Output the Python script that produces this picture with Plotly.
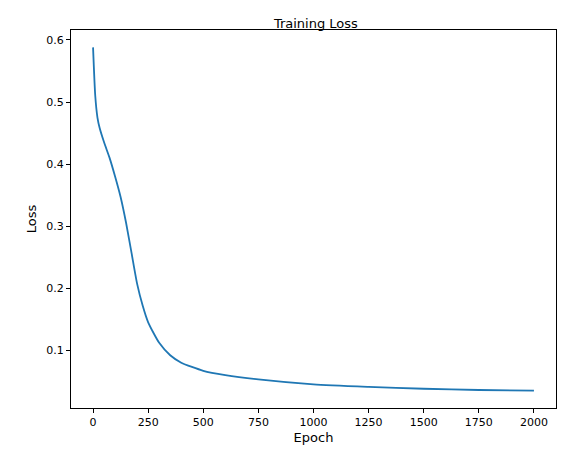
import plotly.graph_objects as go

# values
epochs = [0, 10, 20, 30, 50, 75, 100, 125, 150, 175, 200, 225, 250, 300, 350, 400,
          500, 600, 750, 1000, 1250, 1500, 1750, 2000]
loss = [0.588, 0.51, 0.475, 0.458, 0.435, 0.41, 0.38, 0.347, 0.305, 0.256, 0.207,
        0.172, 0.145, 0.112, 0.092, 0.080, 0.067, 0.060, 0.053, 0.045, 0.041,
        0.038, 0.036, 0.035]

x_ticks = [0, 250, 500, 750, 1000, 1250, 1500, 1750, 2000]
y_ticks = [0.1, 0.2, 0.3, 0.4, 0.5, 0.6]

fig = go.Figure()
fig.add_trace(go.Scatter(x=epochs, y=loss, mode='lines', line=dict(color='#1f77b4', width=1.8, shape='spline', smoothing=0.6)))

axis_style = dict(showline=True, linecolor='black', linewidth=1, mirror=True, ticks='outside',
                  ticklen=4, tickcolor='black', showgrid=False, zeroline=False)

fig.update_layout(
    width=567, height=455,
    margin=dict(l=63, r=19, t=22, b=55),
    plot_bgcolor='white', paper_bgcolor='white',
    font=dict(family='DejaVu Sans', size=11, color='black'),
    title=dict(text='Training Loss', x=0.543, xanchor='center', y=0.975, font=dict(size=13)),
    showlegend=False,
)
fig.update_xaxes(title=dict(text='Epoch', standoff=4), range=[-100, 2100], tickvals=x_ticks, **axis_style)
fig.update_yaxes(title=dict(text='Loss', standoff=6), range=[0.007, 0.616], tickvals=y_ticks, **axis_style)

fig.write_html("out.html")
